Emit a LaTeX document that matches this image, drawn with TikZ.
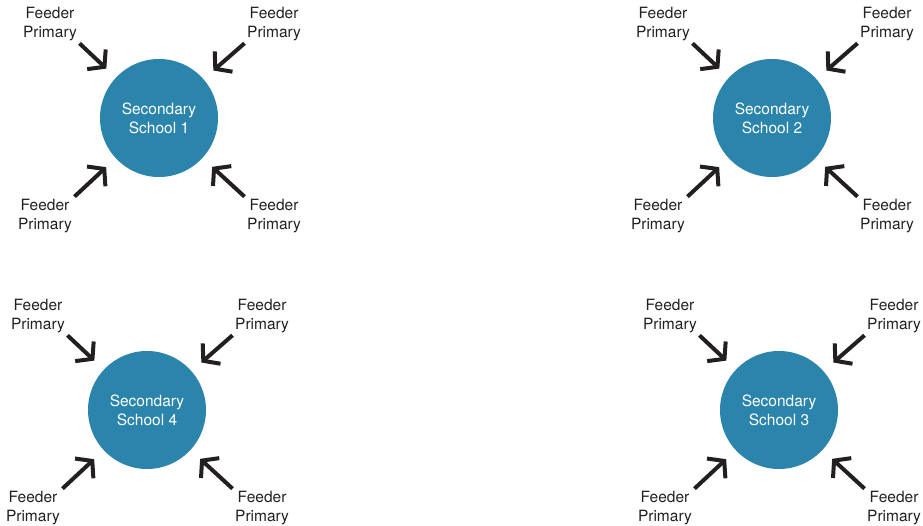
\documentclass[tikz,border=0pt]{standalone}
\usepackage{fontspec}
\setmainfont{TeX Gyre Heros}
\usetikzlibrary{arrows.meta}
\definecolor{schoolblue}{RGB}{42,132,172}
\definecolor{ink}{RGB}{35,31,32}
\begin{document}
\begin{tikzpicture}[x=1pt,y=1pt,
  font=\fontsize{15.5}{19}\selectfont,
  school/.style={circle, fill=schoolblue, minimum size=118pt, inner sep=0pt, text=white, align=center},
  feeder/.style={align=center, inner sep=1pt, text=ink},
  feed/.style={draw=ink, line width=4pt, shorten <=2pt, shorten >=13pt, -{Straight Barb[length=11pt,width=27pt]}}]
\useasboundingbox (0,0) rectangle (923,525);

\node[school] (s1) at (159,407) {Secondary\\School 1};
\node[school] (s2) at (772,407) {Secondary\\School 2};
\node[school] (s3) at (779,115) {Secondary\\School 3};
\node[school] (s4) at (147,115) {Secondary\\School 4};

\node[feeder, anchor=south east] (f1a) at (78,483) {Feeder\\Primary};
\node[feeder, anchor=south west] (f1b) at (246,483) {Feeder\\Primary};
\node[feeder, anchor=north east] (f1c) at (73,327) {Feeder\\Primary};
\node[feeder, anchor=north west] (f1d) at (246,327) {Feeder\\Primary};

\node[feeder, anchor=south east] (f2a) at (691,483) {Feeder\\Primary};
\node[feeder, anchor=south west] (f2b) at (859,483) {Feeder\\Primary};
\node[feeder, anchor=north east] (f2c) at (686,327) {Feeder\\Primary};
\node[feeder, anchor=north west] (f2d) at (859,327) {Feeder\\Primary};

\node[feeder, anchor=south east] (f3a) at (698,191) {Feeder\\Primary};
\node[feeder, anchor=south west] (f3b) at (866,191) {Feeder\\Primary};
\node[feeder, anchor=north east] (f3c) at (693,35) {Feeder\\Primary};
\node[feeder, anchor=north west] (f3d) at (866,35) {Feeder\\Primary};

\node[feeder, anchor=south east] (f4a) at (66,191) {Feeder\\Primary};
\node[feeder, anchor=south west] (f4b) at (234,191) {Feeder\\Primary};
\node[feeder, anchor=north east] (f4c) at (61,35) {Feeder\\Primary};
\node[feeder, anchor=north west] (f4d) at (234,35) {Feeder\\Primary};

\path[feed] (f1a.south east) -- (s1);
\path[feed] (f1b.south west) -- (s1);
\path[feed] (f1c.north east) -- (s1);
\path[feed] (f1d.north west) -- (s1);

\path[feed] (f2a.south east) -- (s2);
\path[feed] (f2b.south west) -- (s2);
\path[feed] (f2c.north east) -- (s2);
\path[feed] (f2d.north west) -- (s2);

\path[feed] (f3a.south east) -- (s3);
\path[feed] (f3b.south west) -- (s3);
\path[feed] (f3c.north east) -- (s3);
\path[feed] (f3d.north west) -- (s3);

\path[feed] (f4a.south east) -- (s4);
\path[feed] (f4b.south west) -- (s4);
\path[feed] (f4c.north east) -- (s4);
\path[feed] (f4d.north west) -- (s4);
\end{tikzpicture}
\end{document}
